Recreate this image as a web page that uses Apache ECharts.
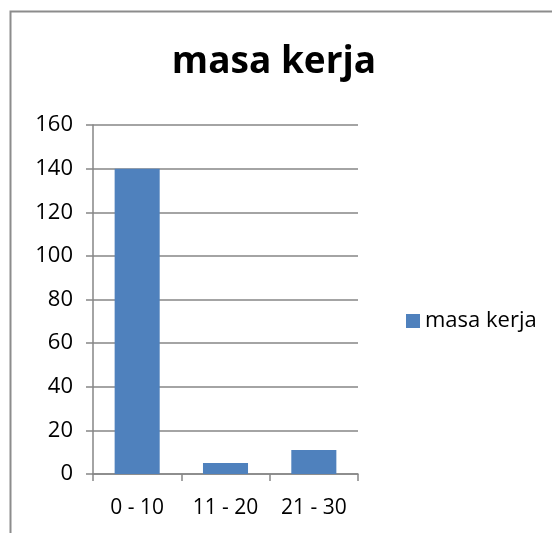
<!DOCTYPE html>
<html><head><meta charset="utf-8">
<script src="https://cdn.jsdelivr.net/npm/echarts@6/dist/echarts.min.js"></script>
<style>html,body{margin:0;padding:0;background:#fff}#c{width:552px;height:533px}</style>
</head><body><div id="c"></div>
<script>
const categories = ["0 - 10", "11 - 20", "21 - 30"];
const seriesName = "masa kerja";
const values = [140, 5, 11];
const yTicks = {min: 0, max: 160, interval: 20};

const chart = echarts.init(document.getElementById('c'), null, {renderer: 'canvas'});
const font = "Open Sans";
chart.setOption({
  animation: false,
  backgroundColor: '#fff',
  textStyle: {fontFamily: font},
  title: {
    text: 'masa kerja', left: 269, top: 39, textAlign: 'center',
    textStyle: {fontFamily: font, fontSize: 37, fontWeight: 'bold', color: '#000'}
  },
  legend: {
    data: [seriesName], left: 401, top: 305, itemWidth: 14, itemHeight: 14, itemGap: 8,
    icon: 'rect',
    textStyle: {fontFamily: font, fontSize: 22, color: '#000'}
  },
  grid: {left: 93, right: 194, top: 125, bottom: 59, containLabel: false},
  xAxis: {
    type: 'category', data: categories,
    axisLine: {lineStyle: {color: '#868686', width: 1.5}},
    axisTick: {show: true, length: 7, alignWithLabel: false, lineStyle: {color: '#868686', width: 1.5}},
    axisLabel: {color: '#000', fontSize: 21, fontFamily: font, margin: 24, interval: 0, hideOverlap: false}
  },
  yAxis: {
    type: 'value', min: yTicks.min, max: yTicks.max, interval: yTicks.interval,
    axisLine: {show: true, lineStyle: {color: '#868686', width: 1.5}},
    axisTick: {show: true, length: 7, lineStyle: {color: '#868686', width: 1.5}},
    splitLine: {lineStyle: {color: '#868686', width: 1.5}},
    axisLabel: {color: '#000', fontSize: 22, fontFamily: font, margin: 20}
  },
  series: [{
    name: seriesName, type: 'bar', data: values,
    barCategoryGap: '49%',
    itemStyle: {color: '#4f81bd'}
  }],
  graphic: [{
    type: 'polyline', silent: true,
    shape: {points: [[10.5, 533], [10.5, 11.5], [552, 11.5]]},
    style: {stroke: '#8c8c8c', lineWidth: 2, fill: null}
  }]
});
</script></body></html>
